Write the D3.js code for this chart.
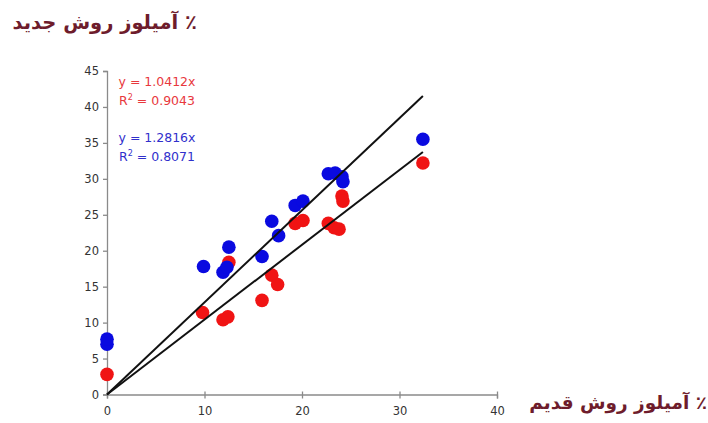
<!DOCTYPE html>
<html><head><meta charset="utf-8">
<script src="https://cdn.jsdelivr.net/npm/d3@7"></script>
<style>body{margin:0;background:#fff}svg{display:block}</style>
</head><body>
<svg id="c" width="708" height="423"></svg>
<script>
const xTicks = [0, 10, 20, 30, 40];
const yTicks = [0, 5, 10, 15, 20, 25, 30, 35, 40, 45];
const blueX = [0, 0, 9.9, 11.9, 12.3, 12.5, 15.9, 16.9, 17.6, 19.3, 20.1, 22.7, 23.4, 24.1, 24.2, 32.4];
const blueY = [7.0, 7.7, 17.8, 17.0, 17.7, 20.5, 19.2, 24.1, 22.1, 26.3, 26.9, 30.7, 30.8, 30.3, 29.6, 35.5];
const redX = [0, 9.8, 11.9, 12.4, 12.5, 15.9, 16.9, 17.5, 19.3, 20.1, 22.7, 23.3, 23.8, 24.1, 24.2, 32.4];
const redY = [2.8, 11.4, 10.4, 10.8, 18.4, 13.1, 16.6, 15.3, 23.8, 24.2, 23.8, 23.2, 23.0, 27.6, 26.9, 32.2];
const slopes = [1.2816, 1.0412];
const eqRed = ["y = 1.0412x", "0.9043"];
const eqBlue = ["y = 1.2816x", "0.8071"];
const yTitle = "٪ آمیلوز روش جدید";
const xTitle = "٪ آمیلوز روش قدیم";

const svg = d3.select("#c");
const x = d3.scaleLinear().domain([0, 40]).range([107, 497]);
const y = d3.scaleLinear().domain([0, 45]).range([394.5, 71]);

const xa = svg.append("g").attr("transform", `translate(0,${y(0)})`)
  .call(d3.axisBottom(x).tickValues(xTicks).tickSize(4).tickPadding(8));
const ya = svg.append("g").attr("transform", `translate(${x(0)},0)`)
  .call(d3.axisLeft(y).tickValues(yTicks).tickSize(4).tickPadding(4));
[xa, ya].forEach(a => {
  a.selectAll("path").attr("stroke", "#8a8a8a").attr("stroke-width", 1.3);
  a.selectAll("line").attr("stroke", "#8a8a8a").attr("stroke-width", 1.3);
  a.selectAll("text").attr("fill", "#333").style("font-family", "DejaVu Sans, sans-serif").style("font-size", "11.5px");
});
xa.selectAll(".tick line").attr("y1", -3);

const red = redX.map((v, i) => [v, redY[i]]);
const blue = blueX.map((v, i) => [v, blueY[i]]);
svg.append("g").selectAll("circle").data(red).join("circle")
  .attr("cx", d => x(d[0])).attr("cy", d => y(d[1])).attr("r", 6.8).attr("fill", "#f01414");
svg.append("g").selectAll("circle").data(blue).join("circle")
  .attr("cx", d => x(d[0])).attr("cy", d => y(d[1])).attr("r", 6.8).attr("fill", "#0a0ae0");

const xmax = d3.max(blueX);
svg.append("g").selectAll("line").data(slopes).join("line")
  .attr("x1", x(0)).attr("y1", y(0)).attr("x2", x(xmax)).attr("y2", d => y(d * xmax))
  .attr("stroke", "#111").attr("stroke-width", 2);

function eq(lines, cx, yy, col) {
  const g = svg.append("g").style("font-family", "DejaVu Sans, sans-serif").style("font-size", "12.5px").attr("fill", col);
  g.append("text").attr("x", cx).attr("y", yy).attr("text-anchor", "middle").text(lines[0]);
  const t = g.append("text").attr("x", cx).attr("y", yy + 18.5).attr("text-anchor", "middle");
  t.append("tspan").text("R");
  t.append("tspan").attr("dy", -5).style("font-size", "8px").text("2");
  t.append("tspan").attr("dy", 5).text(" = " + lines[1]);
}
eq(eqRed, 157, 86, "#e8383d");
eq(eqBlue, 157, 142, "#3030cc");

svg.append("text").attr("x", 197).attr("y", 29).attr("direction", "rtl").attr("text-anchor", "start")
  .style("font-family", "DejaVu Sans, sans-serif").style("font-weight", "bold").style("font-size", "19.5px")
  .attr("fill", "#6e1c2c").text(yTitle);
svg.append("text").attr("x", 707).attr("y", 409).attr("direction", "rtl").attr("text-anchor", "start")
  .style("font-family", "DejaVu Sans, sans-serif").style("font-weight", "bold").style("font-size", "18.5px")
  .attr("fill", "#6e1c2c").text(xTitle);
</script>
</body></html>
